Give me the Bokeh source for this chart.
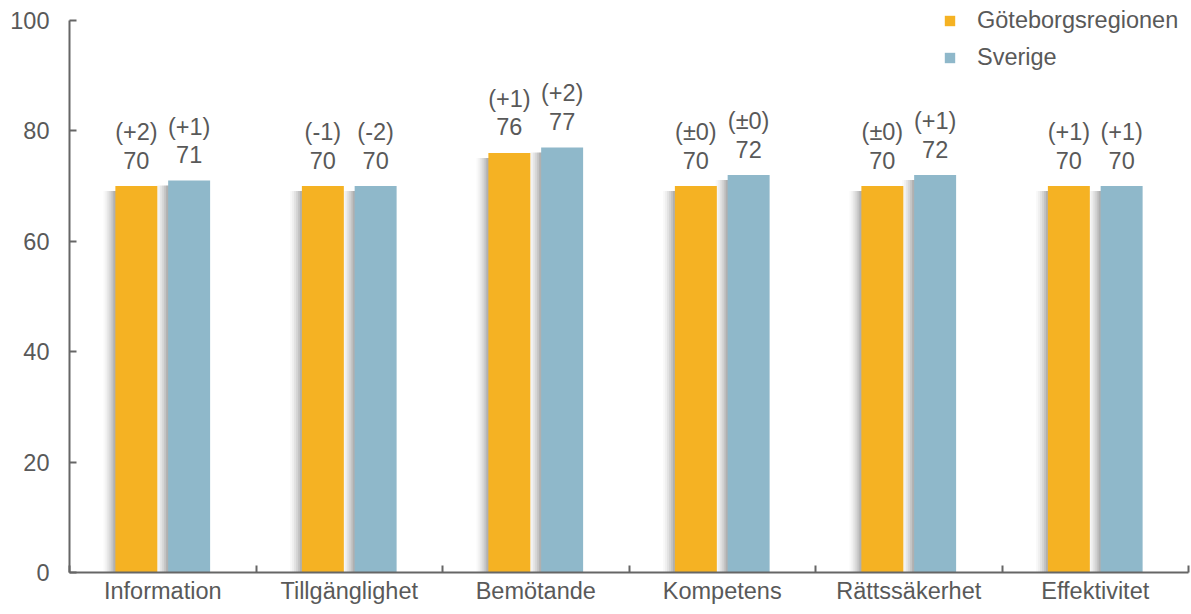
from bokeh.plotting import figure
from bokeh.models import ColumnDataSource, FixedTicker, Range1d, Legend, LegendItem
from bokeh.transform import dodge
from bokeh.core.properties import value
from bokeh.embed import file_html
from bokeh.resources import INLINE

categories = ["Information", "Tillgänglighet", "Bemötande", "Kompetens", "Rättssäkerhet", "Effektivitet"]
goteborg = [70, 70, 76, 70, 70, 70]
sverige = [71, 70, 77, 72, 72, 70]
goteborg_change = ["(+2)", "(-1)", "(+1)", "(±0)", "(±0)", "(+1)"]
sverige_change = ["(+1)", "(-2)", "(+2)", "(±0)", "(+1)", "(+1)"]
series_names = ["Göteborgsregionen", "Sverige"]
colors = ["#F5B223", "#8FB8CA"]
y_ticks = [0, 20, 40, 60, 80, 100]

FONT = "Liberation Sans"
TXT = "#595959"
FS = "23.5px"

xc = [i + 0.5 for i in range(len(categories))]
src = ColumnDataSource(dict(
    x=xc, g=goteborg, s=sverige,
    gl=[str(v) for v in goteborg], sl=[str(v) for v in sverige],
    gc=goteborg_change, sc=sverige_change,
    gsh=[v - 0.9 for v in goteborg], ssh=[v - 0.9 for v in sverige],
))

# frame extends a bit above 100 so the legend (top right) is not clipped;
# the y axis line itself is bounded to 0..100
p = figure(width=1190, height=610, output_backend="svg", toolbar_location=None,
           x_range=Range1d(0, len(categories)), y_range=Range1d(0, 100 + 18 / 5.52),
           min_border_left=69, min_border_right=2, min_border_top=2, min_border_bottom=38)
p.outline_line_color = None
p.xgrid.visible = False
p.ygrid.visible = False

off = 0.1415
w = 0.225
px = 1.0 / 186.5
# soft shadows on left side of bars
for k, a in [(12, 0.025), (10, 0.035), (8, 0.05), (6, 0.06), (4, 0.08), (2, 0.1)]:
    p.vbar(x=dodge("x", -off - k * px, range=p.x_range), top="gsh", width=w, source=src,
           fill_color="#000000", fill_alpha=a, line_color=None)
    p.vbar(x=dodge("x", off - k * px, range=p.x_range), top="ssh", width=w, source=src,
           fill_color="#000000", fill_alpha=a, line_color=None)

rg = p.vbar(x=dodge("x", -off, range=p.x_range), top="g", width=w, source=src,
            fill_color=colors[0], line_color=None)
rs = p.vbar(x=dodge("x", off, range=p.x_range), top="s", width=w, source=src,
            fill_color=colors[1], line_color=None)

for col_v, col_c, top, d in [("gl", "gc", "g", -off), ("sl", "sc", "s", off)]:
    p.text(x=dodge("x", d, range=p.x_range), y=top, text=col_v, source=src,
           text_align="center", text_baseline="alphabetic", y_offset=-26,
           text_font=value(FONT), text_font_size=FS, text_color=TXT)
    p.text(x=dodge("x", d, range=p.x_range), y=top, text=col_c, source=src,
           text_align="center", text_baseline="alphabetic", y_offset=-54,
           text_font=value(FONT), text_font_size=FS, text_color=TXT)

# axes
p.yaxis.ticker = FixedTicker(ticks=y_ticks)
p.yaxis.bounds = (0, 100)
p.yaxis.major_tick_in = 7
p.yaxis.major_tick_out = 0
p.yaxis.minor_tick_line_color = None
p.yaxis.major_label_standoff = 20
for ax in (p.xaxis, p.yaxis):
    ax.axis_line_color = "#666666"
    ax.axis_line_width = 2
    ax.major_tick_line_color = "#666666"
    ax.major_tick_line_width = 2
    ax.major_label_text_font = FONT
    ax.major_label_text_font_size = FS
    ax.major_label_text_color = TXT

p.xaxis.ticker = FixedTicker(ticks=xc, minor_ticks=list(range(len(categories) + 1)))
p.xaxis.major_label_overrides = {x: c for x, c in zip(xc, categories)}
p.xaxis.major_tick_in = 0
p.xaxis.major_tick_out = 0
p.xaxis.minor_tick_in = 7
p.xaxis.minor_tick_out = 0
p.xaxis.minor_tick_line_color = "#666666"
p.xaxis.minor_tick_line_width = 2
p.xaxis.major_label_standoff = 5

legend = Legend(items=[LegendItem(label=series_names[0], renderers=[rg]),
                       LegendItem(label=series_names[1], renderers=[rs])],
                location=(874, 501))
legend.background_fill_alpha = 0
legend.border_line_color = None
legend.label_text_font = FONT
legend.label_text_font_size = FS
legend.label_text_color = TXT
legend.glyph_width = 13
legend.glyph_height = 13
legend.spacing = 10
legend.label_standoff = 21
legend.margin = 0
legend.padding = 0
p.add_layout(legend)

open("out.html", "w").write(file_html(p, INLINE))
